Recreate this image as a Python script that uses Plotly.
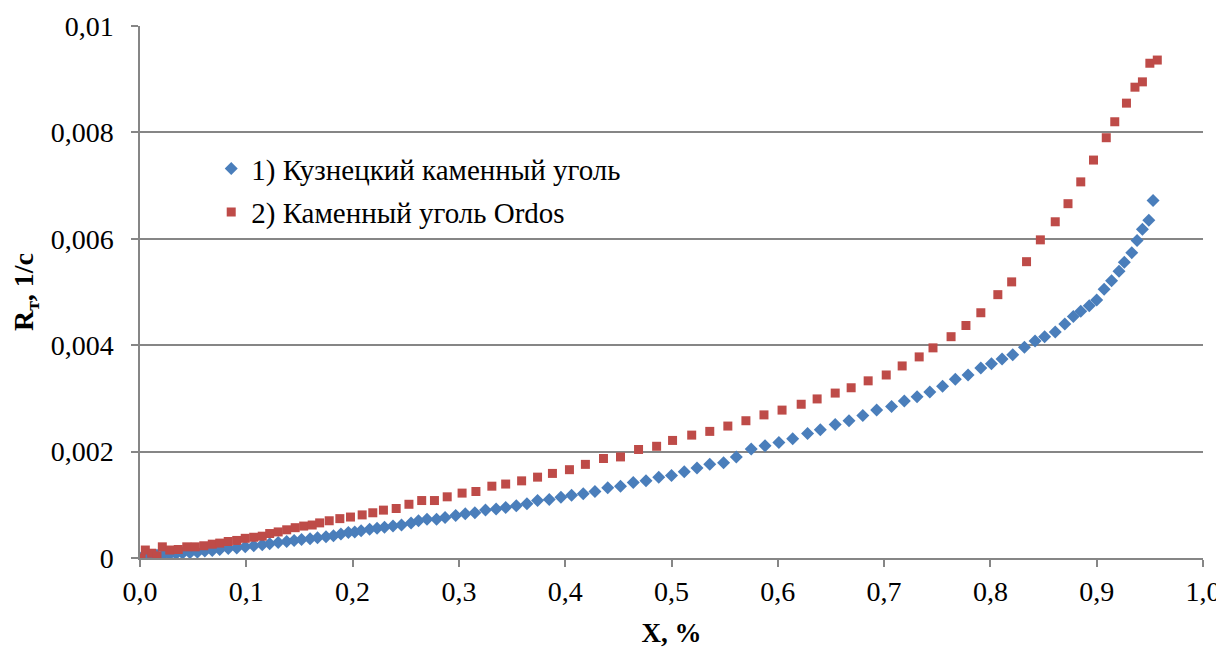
import plotly.graph_objects as go

# Series 1: Кузнецкий каменный уголь
x_kuz = [0.000, 0.005, 0.010, 0.016, 0.022, 0.028, 0.034, 0.040, 0.047, 0.054,
         0.061, 0.068, 0.075, 0.083, 0.091, 0.099, 0.107, 0.115, 0.122, 0.130,
         0.138, 0.145, 0.152, 0.160, 0.167, 0.175, 0.182, 0.189, 0.196, 0.202,
         0.208, 0.216, 0.223, 0.230, 0.238, 0.246, 0.255, 0.262, 0.270, 0.279,
         0.287, 0.297, 0.306, 0.315, 0.325, 0.335, 0.344, 0.354, 0.364, 0.374,
         0.385, 0.396, 0.406, 0.417, 0.428, 0.440, 0.452, 0.464, 0.476, 0.488,
         0.500, 0.512, 0.524, 0.536, 0.549, 0.561, 0.575, 0.588, 0.601, 0.614,
         0.628, 0.640, 0.654, 0.667, 0.680, 0.693, 0.707, 0.719, 0.731, 0.743,
         0.755, 0.767, 0.779, 0.791, 0.801, 0.811, 0.821, 0.832, 0.842, 0.851,
         0.861, 0.870, 0.878, 0.885, 0.893, 0.900, 0.907, 0.914, 0.921, 0.926,
         0.933, 0.938, 0.943, 0.949, 0.953]
y_kuz = [0.00000, 0.00002, 0.00003, 0.00005, 0.00006, 0.00007, 0.00008, 0.00009, 0.00010, 0.00011,
         0.00013, 0.00014, 0.00016, 0.00018, 0.00019, 0.00021, 0.00023, 0.00025, 0.00027, 0.00029,
         0.00031, 0.00033, 0.00035, 0.00036, 0.00038, 0.00040, 0.00042, 0.00045, 0.00048, 0.00049,
         0.00051, 0.00054, 0.00056, 0.00058, 0.00060, 0.00062, 0.00066, 0.00070, 0.00073, 0.00073,
         0.00076, 0.00080, 0.00083, 0.00085, 0.00090, 0.00092, 0.00095, 0.00098, 0.00102, 0.00108,
         0.00110, 0.00114, 0.00118, 0.00121, 0.00125, 0.00132, 0.00135, 0.00142, 0.00145, 0.00152,
         0.00155, 0.00162, 0.00169, 0.00176, 0.00179, 0.00190, 0.00205, 0.00211, 0.00217, 0.00224,
         0.00234, 0.00241, 0.00251, 0.00258, 0.00268, 0.00278, 0.00285, 0.00295, 0.00303, 0.00312,
         0.00323, 0.00336, 0.00344, 0.00357, 0.00365, 0.00374, 0.00382, 0.00396, 0.00408, 0.00416,
         0.00425, 0.00440, 0.00454, 0.00464, 0.00474, 0.00485, 0.00505, 0.00521, 0.00539, 0.00556,
         0.00574, 0.00597, 0.00618, 0.00635, 0.00672]

# Series 2: Каменный уголь Ordos
x_ord = [0.001, 0.005, 0.011, 0.016, 0.021, 0.028, 0.036, 0.044, 0.052, 0.060,
         0.068, 0.075, 0.083, 0.091, 0.099, 0.107, 0.115, 0.122, 0.130, 0.138,
         0.146, 0.154, 0.162, 0.169, 0.178, 0.188, 0.198, 0.209, 0.219, 0.229,
         0.241, 0.253, 0.265, 0.277, 0.289, 0.303, 0.316, 0.331, 0.344, 0.359,
         0.374, 0.388, 0.404, 0.419, 0.436, 0.452, 0.469, 0.486, 0.501, 0.519,
         0.536, 0.553, 0.570, 0.587, 0.604, 0.622, 0.637, 0.654, 0.669, 0.685,
         0.702, 0.717, 0.733, 0.746, 0.763, 0.777, 0.791, 0.807, 0.820, 0.834,
         0.847, 0.861, 0.873, 0.885, 0.897, 0.909, 0.917, 0.928, 0.936, 0.943,
         0.950, 0.957]
y_ord = [0.00000, 0.00015, 0.00009, 0.00004, 0.00021, 0.00015, 0.00016, 0.00021, 0.00021, 0.00023,
         0.00026, 0.00028, 0.00031, 0.00033, 0.00037, 0.00039, 0.00041, 0.00046, 0.00049, 0.00053,
         0.00057, 0.00060, 0.00062, 0.00066, 0.00070, 0.00074, 0.00077, 0.00081, 0.00085, 0.00090,
         0.00093, 0.00101, 0.00108, 0.00108, 0.00115, 0.00122, 0.00125, 0.00135, 0.00139, 0.00145,
         0.00152, 0.00159, 0.00166, 0.00176, 0.00187, 0.00190, 0.00204, 0.00210, 0.00221, 0.00231,
         0.00238, 0.00248, 0.00258, 0.00269, 0.00278, 0.00289, 0.00299, 0.00310, 0.00320, 0.00333,
         0.00344, 0.00361, 0.00378, 0.00395, 0.00416, 0.00437, 0.00461, 0.00495, 0.00519, 0.00557,
         0.00598, 0.00632, 0.00666, 0.00707, 0.00748, 0.00790, 0.00820, 0.00855, 0.00885, 0.00895,
         0.00930, 0.00936]

x_tickvals = [0.0, 0.1, 0.2, 0.3, 0.4, 0.5, 0.6, 0.7, 0.8, 0.9, 1.0]
x_ticktext = ["0,0", "0,1", "0,2", "0,3", "0,4", "0,5", "0,6", "0,7", "0,8", "0,9", "1,0"]
y_tickvals = [0.0, 0.002, 0.004, 0.006, 0.008, 0.01]
y_ticktext = ["0", "0,002", "0,004", "0,006", "0,008", "0,01"]

name_kuz = "1) Кузнецкий каменный уголь"
name_ord = "2) Каменный уголь Ordos"

serif = "Liberation Serif, Times New Roman, serif"

fig = go.Figure()
fig.add_trace(go.Scatter(
    x=x_kuz, y=y_kuz, mode="markers", name=name_kuz, legendgroup="a",
    marker=dict(symbol="diamond", size=10, color="#4A7EBB"),
))
fig.add_trace(go.Scatter(
    x=x_ord, y=y_ord, mode="markers", name=name_ord, legendgroup="b",
    marker=dict(symbol="square", size=9, color="#BE4B48"),
))

fig.update_layout(
    width=1224, height=648,
    margin=dict(l=132, r=29, t=18, b=98),
    paper_bgcolor="white", plot_bgcolor="white",
    font=dict(family=serif, size=28, color="#000000"),
    showlegend=True,
    legend=dict(
        x=0.067, y=0.78, xanchor="left", yanchor="top",
        bgcolor="rgba(0,0,0,0)", font=dict(family=serif, size=29, color="#000000"),
        traceorder="grouped", tracegroupgap=3, itemwidth=30,
    ),
    xaxis=dict(
        range=[0, 1.0], tickvals=x_tickvals, ticktext=x_ticktext,
        showgrid=False, zeroline=False, automargin=False,
        showline=True, linecolor="#868686", linewidth=1.5,
        ticks="outside", ticklen=7, tickcolor="#868686", tickwidth=1.5,
        ticklabelstandoff=1,
        tickfont=dict(family=serif, size=28, color="#000000"),
        title=dict(text="<b>X, %</b>", font=dict(family=serif, size=27, color="#000000"), standoff=17),
    ),
    yaxis=dict(
        range=[0, 0.01], tickvals=y_tickvals, ticktext=y_ticktext,
        showgrid=True, gridcolor="#868686", gridwidth=1.5, zeroline=False, automargin=False,
        showline=True, linecolor="#868686", linewidth=1.5,
        ticks="outside", ticklen=7, tickcolor="#868686", tickwidth=1.5,
        ticklabelstandoff=12,
        tickfont=dict(family=serif, size=28, color="#000000"),
        title=dict(text="<b>R<sub>т</sub>, 1/с</b>", font=dict(family=serif, size=28, color="#000000"), standoff=14),
    ),
)

fig.write_html("out.html")
